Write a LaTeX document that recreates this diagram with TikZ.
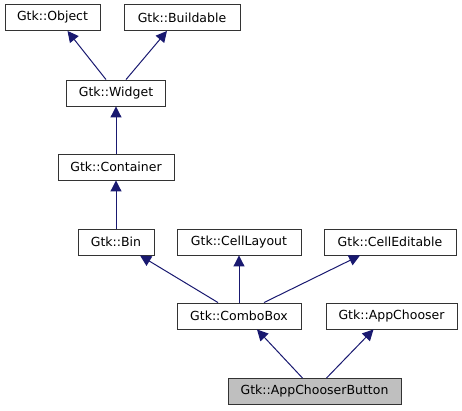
\documentclass[tikz,border=0pt]{standalone}
\usepackage{fontspec}
\setmainfont{DejaVu Sans}
\usetikzlibrary{arrows.meta}
\definecolor{edgeblue}{HTML}{191970}
\begin{document}
\begin{tikzpicture}[x=1pt,y=-1pt,
	every node/.style={draw=black!80,fill=white,line width=0.9pt,minimum height=26pt,inner sep=0pt,font=\fontsize{12.5}{15}\selectfont},
	edge/.style={draw=edgeblue,line width=1pt,-{Triangle[length=11pt,width=11pt,fill=edgeblue]}},
	this/.style={fill=black!25}]
\useasboundingbox (0,0) rectangle (462,411);
\node[minimum width=95pt] (object) at (52.5,17.5) {Gtk::Object};
\node[minimum width=116pt] (buildable) at (182,17.5) {Gtk::Buildable};
\node[minimum width=99pt] (widget) at (116,93) {Gtk::Widget};
\node[minimum width=116pt] (container) at (116,167) {Gtk::Container};
\node[minimum width=76pt] (bin) at (116,242) {Gtk::Bin};
\node[minimum width=124pt] (celllayout) at (239,242) {Gtk::CellLayout};
\node[minimum width=132pt] (celleditable) at (390,242) {Gtk::CellEditable};
\node[minimum width=124pt] (combobox) at (239,316) {Gtk::ComboBox};
\node[minimum width=131pt] (appchooser) at (391.5,316) {Gtk::AppChooser};
\node[this,minimum width=173pt] (button) at (314.5,391.5) {Gtk::AppChooserButton};
\draw[edge] ([xshift=-10pt]widget.north) -- ([xshift=15pt]object.south);
\draw[edge] ([xshift=10pt]widget.north) -- ([xshift=-15pt]buildable.south);
\draw[edge] (container.north) -- (widget.south);
\draw[edge] (bin.north) -- (container.south);
\draw[edge] ([xshift=-21pt]combobox.north) -- ([xshift=24pt]bin.south);
\draw[edge] (combobox.north) -- (celllayout.south);
\draw[edge] ([xshift=25pt]combobox.north) -- ([xshift=-30pt]celleditable.south);
\draw[edge] ([xshift=-12pt]button.north) -- ([xshift=18pt]combobox.south);
\draw[edge] ([xshift=12pt]button.north) -- ([xshift=-18pt]appchooser.south);
\end{tikzpicture}
\end{document}
